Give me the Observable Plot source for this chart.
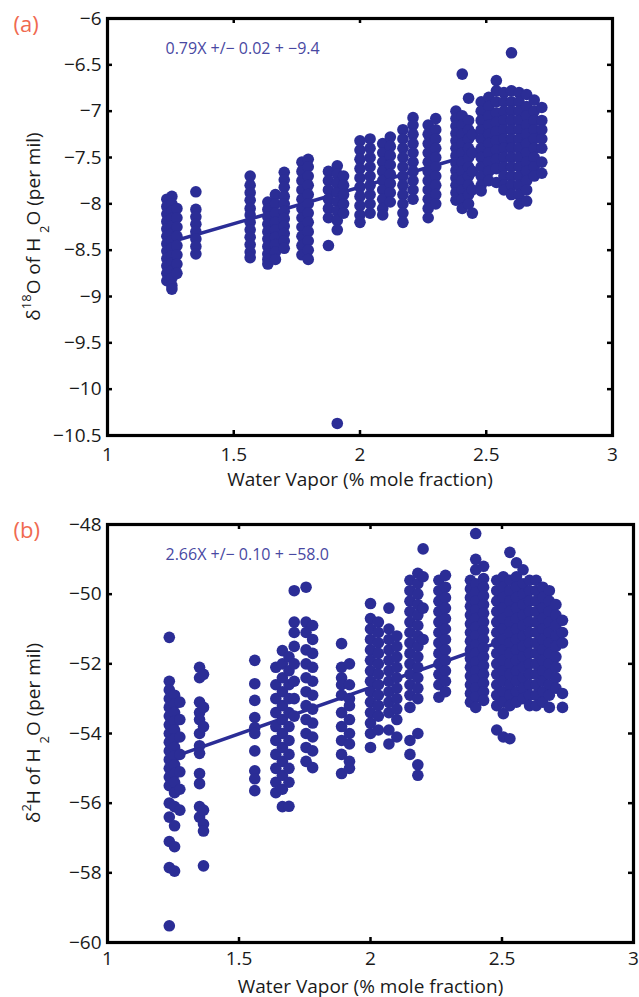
<!DOCTYPE html>
<html><head><meta charset="utf-8">
<script src="https://cdn.jsdelivr.net/npm/d3@7"></script>
<script src="https://cdn.jsdelivr.net/npm/@observablehq/plot@0.6"></script>
<style>
body{margin:0;background:#fff;}
svg{display:block}
</style></head><body><div id="chart"></div>
<script>
// ---- Data ----
const xTicks = [1, 1.5, 2, 2.5, 3];
const yTicksA = [-10.5, -10, -9.5, -9, -8.5, -8, -7.5, -7, -6.5, -6];
const yTicksB = [-60, -58, -56, -54, -52, -50, -48];
const xLabel = "Water Vapor (% mole fraction)";
const eqA = "0.79X +/\u2212 0.02 + \u22129.4";
const eqB = "2.66X +/\u2212 0.10 + \u221258.0";
const tagA = "(a)";
const tagB = "(b)";

// each column: [water vapor, [delta values]]
const colsA = [
  [1.235, [-7.95,-8.03,-8.11,-8.19,-8.27,-8.35,-8.43,-8.51,-8.59,-8.67,-8.75,-8.83]],
  [1.255, [-7.92,-8.0,-8.08,-8.16,-8.24,-8.32,-8.4,-8.48,-8.56,-8.64,-8.72,-8.8,-8.88,-8.92]],
  [1.275, [-8.05,-8.15,-8.25,-8.35,-8.45,-8.55,-8.65,-8.75]],
  [1.35,  [-7.87,-8.06,-8.14,-8.22,-8.3,-8.38,-8.46,-8.54]],
  [1.565, [-7.7,-7.8,-7.88,-7.96,-8.05,-8.12,-8.2,-8.28,-8.36,-8.44,-8.52,-8.58]],
  [1.635, [-7.98,-8.06,-8.14,-8.22,-8.3,-8.38,-8.46,-8.54,-8.6,-8.65]],
  [1.665, [-7.9,-8.0,-8.1,-8.2,-8.28,-8.36,-8.44,-8.52,-8.6]],
  [1.70,  [-7.66,-7.74,-7.82,-7.92,-8.0,-8.08,-8.16,-8.24,-8.32,-8.4,-8.48]],
  [1.77,  [-7.55,-7.65,-7.75,-7.85,-7.95,-8.05,-8.15,-8.25,-8.35,-8.45,-8.55]],
  [1.795, [-7.52,-7.6,-7.7,-7.8,-7.9,-8.0,-8.1,-8.2,-8.3,-8.4,-8.5,-8.6]],
  [1.875, [-7.65,-7.75,-7.85,-7.95,-8.05,-8.15,-8.45]],
  [1.91,  [-7.59,-7.68,-7.78,-7.88,-7.98,-8.08,-8.18,-8.28,-10.37]],
  [1.935, [-7.7,-7.8,-7.9,-8.0,-8.1]],
  [2.00,  [-7.32,-7.42,-7.52,-7.62,-7.72,-7.82,-7.92,-8.02,-8.12,-8.2]],
  [2.04,  [-7.3,-7.4,-7.5,-7.6,-7.7,-7.8,-7.9,-8.0,-8.1]],
  [2.09,  [-7.35,-7.45,-7.55,-7.65,-7.75,-7.85,-7.95,-8.05,-8.12]],
  [2.12,  [-7.28,-7.38,-7.48,-7.58,-7.68,-7.78,-7.88,-7.98]],
  [2.17,  [-7.2,-7.3,-7.4,-7.5,-7.6,-7.7,-7.8,-7.9,-8.0,-8.1,-8.2]],
  [2.21,  [-7.07,-7.15,-7.25,-7.35,-7.45,-7.55,-7.65,-7.75,-7.85,-7.95]],
  [2.27,  [-7.15,-7.25,-7.35,-7.45,-7.55,-7.65,-7.75,-7.85,-7.95,-8.05,-8.15]],
  [2.30,  [-7.08,-7.2,-7.3,-7.4,-7.5,-7.6,-7.7,-7.8,-7.9,-8.0]],
  [2.38,  [-7.0,-7.08,-7.16,-7.24,-7.32,-7.4,-7.48,-7.56,-7.64,-7.72,-7.8,-7.88,-7.96]],
  [2.405, [-6.6,-7.05,-7.15,-7.25,-7.35,-7.45,-7.55,-7.65,-7.75,-7.85,-7.95,-8.05]],
  [2.43,  [-6.86,-7.1,-7.2,-7.3,-7.4,-7.5,-7.6,-7.7,-7.8,-7.9,-8.0]],
  [2.445, [-7.25,-7.45,-7.65,-7.85,-8.1]],
  [2.48,  [-6.9,-7.0,-7.1,-7.2,-7.3,-7.4,-7.5,-7.6,-7.7,-7.8,-7.86]],
  [2.51,  [-6.85,-6.95,-7.05,-7.15,-7.25,-7.35,-7.45,-7.55,-7.65,-7.75]],
  [2.54,  [-6.67,-6.78,-6.9,-7.02,-7.12,-7.22,-7.32,-7.42,-7.52,-7.62,-7.77]],
  [2.57,  [-6.8,-6.9,-7.0,-7.1,-7.2,-7.3,-7.4,-7.5,-7.6,-7.7,-7.8,-7.85]],
  [2.60,  [-6.37,-6.78,-6.9,-7.0,-7.1,-7.2,-7.3,-7.4,-7.5,-7.6,-7.7,-7.8,-7.9]],
  [2.63,  [-6.8,-6.9,-7.0,-7.1,-7.2,-7.3,-7.4,-7.5,-7.6,-7.7,-7.8,-7.9,-8.0]],
  [2.66,  [-6.82,-6.95,-7.05,-7.15,-7.25,-7.35,-7.45,-7.55,-7.65,-7.75,-7.85,-7.97]],
  [2.69,  [-6.88,-7.0,-7.1,-7.2,-7.3,-7.4,-7.5,-7.6,-7.7]],
  [2.72,  [-6.96,-7.1,-7.2,-7.3,-7.4,-7.55,-7.67]]
];

const colsB = [
  [1.235, [-51.24,-52.5,-52.75,-53.0,-53.25,-53.5,-53.75,-54.0,-54.25,-54.5,-54.75,-55.0,-55.25,-55.5,-56.0,-56.4,-57.1,-57.85,-59.52]],
  [1.255, [-52.9,-53.15,-53.4,-53.65,-53.9,-54.15,-54.4,-54.65,-54.9,-55.15,-55.4,-55.7,-56.1,-56.65,-57.25,-57.95]],
  [1.275, [-53.1,-53.6,-54.1,-54.6,-55.1,-55.6,-56.2]],
  [1.35,  [-52.1,-52.4,-53.1,-53.4,-53.6,-54.0,-54.35,-54.57,-55.15,-55.44,-56.1,-56.4]],
  [1.365, [-52.3,-53.25,-53.8,-56.2,-56.6,-56.8,-57.8]],
  [1.56,  [-51.9,-52.57,-53.05,-53.54,-53.83,-54.0,-54.5,-55.07,-55.3,-55.64]],
  [1.64,  [-52.1,-52.6,-53.0,-53.4,-53.8,-54.2,-54.6,-55.0,-55.4,-55.7]],
  [1.665, [-51.62,-52.0,-52.4,-52.8,-53.2,-53.6,-54.0,-54.4,-54.8,-55.2,-55.6,-56.1]],
  [1.69,  [-51.8,-52.2,-52.6,-53.0,-53.4,-53.8,-54.2,-54.6,-55.0,-55.4,-56.09]],
  [1.71,  [-49.9,-50.8,-51.1,-51.5,-52.0,-52.5,-53.0,-53.5]],
  [1.755, [-49.8,-50.8,-51.1,-51.6,-52.0,-52.4,-52.8,-53.2,-53.6,-54.0,-54.4,-54.8]],
  [1.78,  [-50.9,-51.3,-51.7,-52.1,-52.5,-52.9,-53.3,-53.7,-54.1,-54.5,-54.98]],
  [1.89,  [-51.42,-52.1,-52.4,-52.6,-52.9,-53.4,-53.8,-54.2,-54.6,-55.15]],
  [1.92,  [-52.0,-52.6,-53.0,-53.2,-53.6,-54.0,-54.3,-54.8,-55.0]],
  [2.0,   [-50.27,-50.7,-51.0,-51.3,-51.6,-51.9,-52.2,-52.5,-52.8,-53.1,-53.4,-53.7,-54.0,-54.4]],
  [2.03,  [-50.8,-51.1,-51.4,-51.7,-52.0,-52.3,-52.6,-52.9,-53.2,-53.5,-53.9]],
  [2.07,  [-50.4,-51.0,-51.3,-51.6,-51.9,-52.2,-52.5,-52.8,-53.1,-53.4,-53.9,-54.3]],
  [2.10,  [-51.2,-51.5,-51.8,-52.1,-52.4,-52.7,-53.0,-53.3,-53.6,-54.1]],
  [2.15,  [-49.6,-49.9,-50.2,-50.5,-50.8,-51.1,-51.4,-51.7,-52.0,-52.3,-52.6,-52.9,-53.25,-54.2,-54.6]],
  [2.18,  [-49.4,-49.7,-50.0,-50.3,-50.6,-50.9,-51.2,-51.5,-51.8,-52.1,-52.4,-52.7,-53.0,-54.0,-54.9,-55.2]],
  [2.20,  [-48.7,-49.5,-50.4,-51.3]],
  [2.26,  [-49.6,-49.9,-50.2,-50.5,-50.8,-51.1,-51.4,-51.7,-52.0,-52.3,-52.6,-52.96]],
  [2.285, [-49.46,-49.8,-50.1,-50.4,-50.7,-51.0,-51.3,-51.6,-51.9,-52.2,-52.5,-52.8]],
  [2.38,  [-49.6,-49.85,-50.1,-50.35,-50.6,-50.85,-51.1,-51.35,-51.6,-51.85,-52.1,-52.35,-52.6,-52.85,-53.1]],
  [2.40,  [-48.26,-49.0,-49.3,-49.7,-49.95,-50.2,-50.45,-50.7,-50.95,-51.2,-51.45,-51.7,-51.95,-52.2,-52.45,-52.7,-52.95,-53.25]],
  [2.43,  [-49.2,-49.55,-49.8,-50.05,-50.3,-50.55,-50.8,-51.05,-51.3,-51.55,-51.8,-52.05,-52.3,-52.55,-52.8,-53.05]],
  [2.48,  [-49.6,-49.9,-50.2,-50.5,-50.8,-51.1,-51.4,-51.7,-52.0,-52.3,-52.6,-52.9,-53.2,-53.9]],
  [2.505, [-49.5,-49.8,-50.1,-50.4,-50.7,-51.0,-51.3,-51.6,-51.9,-52.2,-52.5,-52.8,-53.1,-53.43,-54.1]],
  [2.53,  [-48.8,-49.6,-49.9,-50.2,-50.5,-50.8,-51.1,-51.4,-51.7,-52.0,-52.3,-52.6,-52.9,-53.2,-54.15]],
  [2.555, [-49.1,-49.5,-49.8,-50.1,-50.4,-50.7,-51.0,-51.3,-51.6,-51.9,-52.2,-52.5,-52.8,-53.1]],
  [2.58,  [-49.3,-49.7,-50.0,-50.3,-50.6,-50.9,-51.2,-51.5,-51.8,-52.1,-52.4,-52.7,-53.0]],
  [2.605, [-49.6,-49.9,-50.2,-50.5,-50.8,-51.1,-51.4,-51.7,-52.0,-52.3,-52.6,-52.9,-53.2]],
  [2.63,  [-49.6,-49.9,-50.2,-50.5,-50.8,-51.1,-51.4,-51.7,-52.0,-52.3,-52.6,-52.9,-53.2]],
  [2.655, [-49.8,-50.1,-50.4,-50.7,-51.0,-51.3,-51.6,-51.9,-52.2,-52.5,-52.8,-53.1]],
  [2.68,  [-49.9,-50.2,-50.5,-50.8,-51.1,-51.4,-51.7,-52.0,-52.3,-52.6,-52.9,-53.25]],
  [2.705, [-50.3,-50.6,-50.9,-51.2,-51.5,-51.8,-52.1,-52.4,-52.7]],
  [2.73,  [-50.75,-51.1,-51.4,-52.85,-53.25]]
];

// fitted lines (end points)
const fitA = [{x: 1.24, y: -8.42}, {x: 2.72, y: -7.25}];
const fitB = [{x: 1.24, y: -54.70}, {x: 2.73, y: -50.74}];

// ---- Styles ----
const FONT = "'Open Sans', 'Noto Sans', sans-serif";
const BLUE = "#2b2d96";
const EQ = "#4848a2";
const TAG = "#f06a50";
const fmt = d3.format("");
const XDOM = [1, 3];

function panel({cols, fit, yDomain, yTicks, width, height, mt, mr, mb, ml, eq, tag, ylab, labDy, tickPad}) {
  const pts = cols.flatMap(([x, ys]) => ys.map(y => ({x, y})));
  const TS = 5, SW = 2.5;
  const [y0, y1] = yDomain, [x0, x1] = XDOM;
  const svg = Plot.plot({
    width, height, marginTop: mt, marginRight: mr, marginBottom: mb, marginLeft: ml,
    style: {fontFamily: FONT, fontSize: "19px", color: "#1a1a1a", background: "white", overflow: "visible"},
    x: {domain: XDOM},
    y: {domain: yDomain},
    marks: [
      // inward ticks on all four sides
      Plot.ruleX(xTicks, {x: d => d, y1: y0, y2: y0, insetBottom: TS, stroke: "black", strokeWidth: SW}),
      Plot.ruleX(xTicks, {x: d => d, y1: y1, y2: y1, insetTop: TS, stroke: "black", strokeWidth: SW}),
      Plot.ruleY(yTicks, {y: d => d, x1: x0, x2: x0, insetRight: -TS, stroke: "black", strokeWidth: SW}),
      Plot.ruleY(yTicks, {y: d => d, x1: x1, x2: x1, insetLeft: -TS, stroke: "black", strokeWidth: SW}),
      // tick labels
      Plot.axisX({anchor: "bottom", ticks: xTicks, tickSize: 0, tickPadding: tickPad, tickFormat: fmt, label: null}),
      Plot.axisY({anchor: "left", ticks: yTicks, tickSize: 0, tickPadding: 6, tickFormat: fmt, label: null}),
      Plot.line(fit, {x: "x", y: "y", stroke: BLUE, strokeWidth: 3.5}),
      Plot.dot(pts, {x: "x", y: "y", r: 5.8, fill: BLUE, stroke: "none"}),
      Plot.frame({stroke: "black", strokeWidth: 3.2}),
      Plot.text([eq], {frameAnchor: "top-left", dx: 58, dy: 24, fill: EQ, fontSize: 16}),
      Plot.text([tag], {frameAnchor: "top-left", dx: -94, dy: -2, fill: TAG, fontSize: 22}),
      Plot.text([xLabel], {frameAnchor: "bottom", dy: labDy, fontSize: 19})
    ]
  });
  const cy = mt + (height - mt - mb) / 2;
  const t = d3.select(svg).append("text")
    .attr("transform", `translate(40,${cy}) rotate(-90)`)
    .attr("text-anchor", "middle")
    .attr("fill", "#1a1a1a")
    .style("font-family", FONT).style("font-size", "19px");
  ylab.forEach(([s, k]) => {
    const ts = t.append("tspan").text(s);
    if (k) ts.attr("baseline-shift", k).style("font-size", "13px");
  });
  return svg;
}

const root = document.getElementById("chart");
root.appendChild(panel({cols: colsA, fit: fitA, yDomain: [-10.5, -6], yTicks: yTicksA,
  width: 639, height: 497, mt: 18, mr: 27, mb: 62, ml: 107, eq: eqA, tag: tagA, labDy: 50, tickPad: 12,
  ylab: [["\u03b4"], ["18", "super"], ["O of H "], ["2", "sub"], ["O (per mil)"]]}));
root.appendChild(panel({cols: colsB, fit: fitB, yDomain: [-60, -48], yTicks: yTicksB,
  width: 639, height: 500, mt: 27, mr: 6, mb: 55, ml: 107, eq: eqB, tag: tagB, labDy: 50, tickPad: 9,
  ylab: [["\u03b4"], ["2", "super"], ["H of H "], ["2", "sub"], ["O (per mil)"]]}));
</script></body></html>
